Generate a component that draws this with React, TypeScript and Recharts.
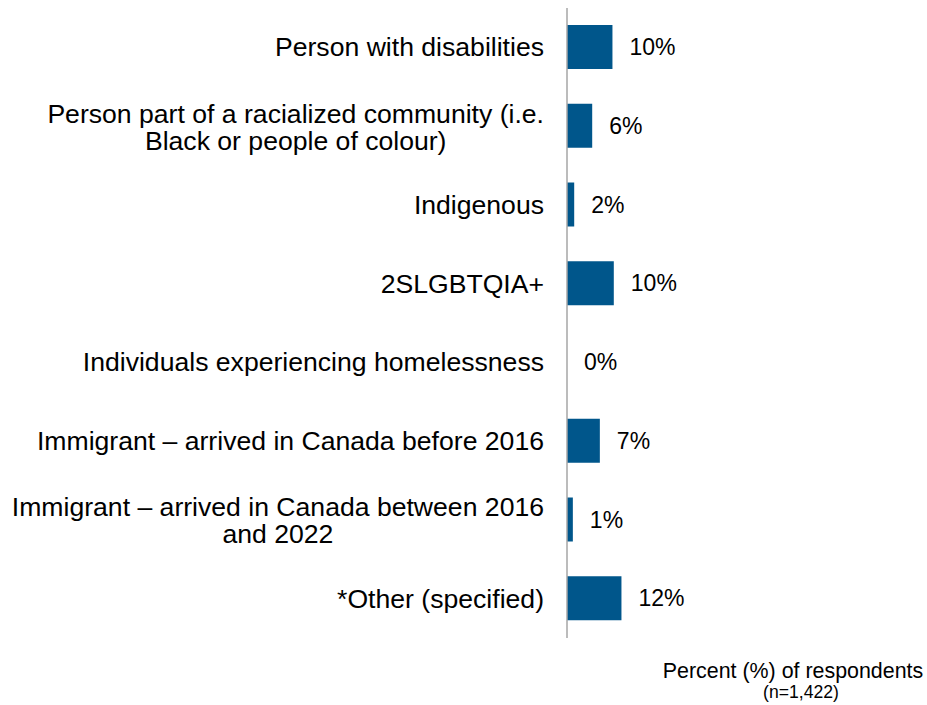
import React from "react";
import { BarChart, Bar, XAxis, YAxis, LabelList } from "recharts";

const categories = [
  "Person with disabilities",
  "Person part of a racialized community (i.e.\nBlack or people of colour)",
  "Indigenous",
  "2SLGBTQIA+",
  "Individuals experiencing homelessness",
  "Immigrant \u2013 arrived in Canada before 2016",
  "Immigrant \u2013 arrived in Canada between 2016\nand 2022",
  "*Other (specified)",
];
const values = [10.1, 5.6, 1.6, 10.4, 0, 7.3, 1.3, 12.1];
const axisTitle = "Percent (%) of respondents";
const axisSubtitle = "(n=1,422)";

const data = categories.map((c, i) => ({ category: c, value: values[i] }));

const FONT = "'Liberation Sans', Arial, sans-serif";
const CAT_FONT_SIZE = 26.6;
const LABEL_FONT_SIZE = 23;
const BAR_COLOR = "#00568B";

let canvasCtx: CanvasRenderingContext2D | null = null;
function measure(text: string, size: number): number {
  if (typeof document === "undefined") return text.length * size * 0.5;
  if (!canvasCtx) {
    const c = document.createElement("canvas");
    canvasCtx = c.getContext("2d");
  }
  if (!canvasCtx) return text.length * size * 0.5;
  canvasCtx.font = `${size}px 'Liberation Sans', Arial, sans-serif`;
  return canvasCtx.measureText(text).width;
}

const CategoryTick = (props: any) => {
  const { x, y, payload } = props;
  const lines: string[] = String(payload.value).split("\n");
  const right = Number(x) - 1;
  const lineGap = 27;
  if (lines.length === 1) {
    return (
      <text
        x={right}
        y={Number(y) + 9}
        textAnchor="end"
        fontFamily={FONT}
        fontSize={CAT_FONT_SIZE}
        fill="#000"
      >
        {lines[0]}
      </text>
    );
  }
  const maxW = Math.max(...lines.map((l) => measure(l, CAT_FONT_SIZE)));
  const cx = right - maxW / 2;
  const startY = Number(y) + 10 - ((lines.length - 1) * lineGap) / 2;
  return (
    <text
      x={cx}
      y={startY}
      textAnchor="middle"
      fontFamily={FONT}
      fontSize={CAT_FONT_SIZE}
      fill="#000"
    >
      {lines.map((l, i) => (
        <tspan key={i} x={cx} dy={i === 0 ? 0 : lineGap}>
          {l}
        </tspan>
      ))}
    </text>
  );
};

const ValueLabel = (props: any) => {
  const { x, y, width, height, value } = props;
  const xe = Number(x) + (Number(width) || 0) + 17;
  const yc = Number(y) + Number(height) / 2 + 8;
  return (
    <text x={xe} y={yc} textAnchor="start" fontFamily={FONT} fontSize={LABEL_FONT_SIZE} fill="#000">
      {`${Math.round(Number(value) || 0)}%`}
    </text>
  );
};

export default function App() {
  return (
    <div style={{ position: "absolute", left: 0, top: 0, width: 927, height: 705, background: "#fff" }}>
      <BarChart
        width={927}
        height={705}
        data={data}
        layout="vertical"
        margin={{ top: 8, right: 45, bottom: 67, left: 0 }}
      >
        <XAxis type="number" domain={[0, 70]} hide />
        <YAxis
          type="category"
          dataKey="category"
          width={567}
          axisLine={{ stroke: "#A6A6A6", strokeWidth: 1.5 }}
          tickLine={false}
          tickSize={0}
          tickMargin={22}
          tick={<CategoryTick />}
          interval={0}
        />
        <Bar dataKey="value" fill={BAR_COLOR} barSize={44} minPointSize={0.01} isAnimationActive={false}>
          <LabelList dataKey="value" content={<ValueLabel />} />
        </Bar>
      </BarChart>
      <svg
        width={927}
        height={705}
        style={{ position: "absolute", left: 0, top: 0, pointerEvents: "none" }}
      >
        <text x={793} y={678} textAnchor="middle" fontFamily={FONT} fontSize={21.4} fill="#000">
          {axisTitle}
        </text>
        <text x={801} y={698} textAnchor="middle" fontFamily={FONT} fontSize={17.6} fill="#000">
          {axisSubtitle}
        </text>
      </svg>
    </div>
  );
}
